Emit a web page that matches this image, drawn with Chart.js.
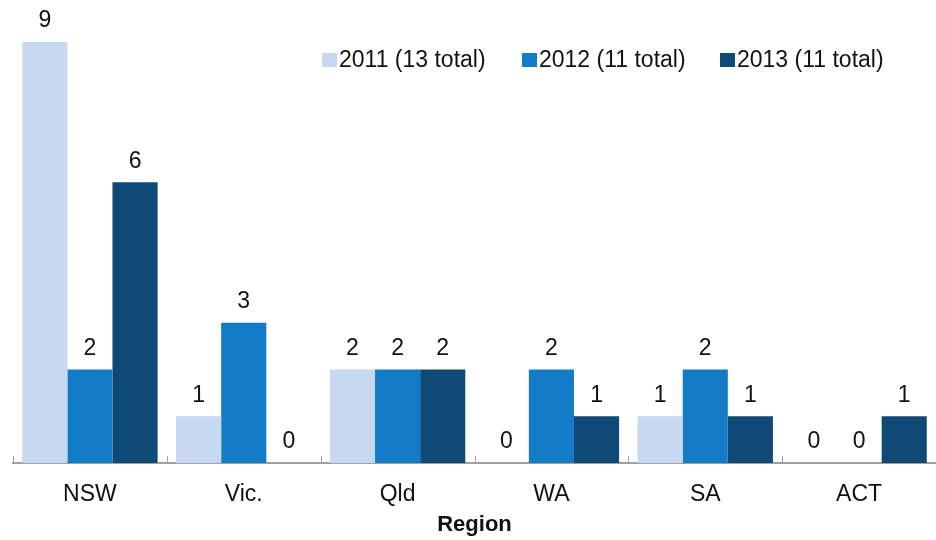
<!DOCTYPE html>
<html>
<head>
<meta charset="utf-8">
<script src="https://cdn.jsdelivr.net/npm/chart.js@4"></script>
<style>
  html, body { margin: 0; padding: 0; background: #fff; }
  #wrap { width: 936px; height: 540px; }
</style>
</head>
<body>
<div id="wrap"><canvas id="chart" width="936" height="540"></canvas></div>
<script>
const regions = ['NSW', 'Vic.', 'Qld', 'WA', 'SA', 'ACT'];
const seriesNames = ['2011 (13 total)', '2012 (11 total)', '2013 (11 total)'];
const values2011 = [9, 1, 2, 0, 1, 0];
const values2012 = [2, 3, 2, 2, 2, 0];
const values2013 = [6, 0, 2, 1, 1, 1];
const colors = ['#c6d9f0', '#137cc6', '#0e4a75'];

const FONT = '"Liberation Sans", Arial, sans-serif';
const TEXT = '#111111';

// value labels above bars + small upward ticks at category boundaries + legend
const extrasPlugin = {
  id: 'extras',
  afterDatasetsDraw(chart) {
    const ctx = chart.ctx;
    ctx.save();
    ctx.font = '23px ' + FONT;
    ctx.fillStyle = TEXT;
    ctx.textAlign = 'center';
    ctx.textBaseline = 'middle';
    chart.data.datasets.forEach((ds, i) => {
      chart.getDatasetMeta(i).data.forEach((bar, j) => {
        ctx.fillText(String(ds.data[j]), bar.x, bar.y - 21);
      });
    });

    // tick marks
    const xs = chart.scales.x;
    const bottom = chart.chartArea.bottom;
    const half = (xs.getPixelForValue(1) - xs.getPixelForValue(0)) / 2;
    ctx.strokeStyle = '#a0a0a0';
    ctx.lineWidth = 1;
    for (let i = 0; i <= regions.length; i++) {
      const x = Math.round(xs.getPixelForValue(0) - half + i * half * 2) + 0.5;
      ctx.beginPath();
      ctx.moveTo(x, bottom);
      ctx.lineTo(x, bottom - 7);
      ctx.stroke();
    }

    // legend
    const legendX = [322, 522, 720];
    ctx.textAlign = 'left';
    ctx.font = '23px ' + FONT;
    seriesNames.forEach((name, i) => {
      ctx.fillStyle = colors[i];
      ctx.fillRect(legendX[i], 53, 15, 14);
      ctx.fillStyle = TEXT;
      ctx.fillText(name, legendX[i] + 17, 61);
    });
    ctx.restore();
  }
};

new Chart(document.getElementById('chart'), {
  type: 'bar',
  data: {
    labels: regions,
    datasets: [
      { label: seriesNames[0], data: values2011, backgroundColor: colors[0] },
      { label: seriesNames[1], data: values2012, backgroundColor: colors[1] },
      { label: seriesNames[2], data: values2013, backgroundColor: colors[2] }
    ]
  },
  options: {
    responsive: false,
    animation: false,
    layout: { padding: { top: 42, left: 13, right: 0, bottom: 0 } },
    datasets: { bar: { categoryPercentage: 0.88, barPercentage: 1.0 } },
    scales: {
      x: {
        grid: { display: false },
        border: { display: true, color: '#a0a0a0', width: 2 },
        ticks: { color: TEXT, font: { family: FONT, size: 23 }, padding: 10 },
        title: {
          display: true,
          text: 'Region',
          color: TEXT,
          font: { family: FONT, size: 22, weight: 'bold' },
          padding: { top: 4, bottom: 2 }
        },
        afterFit(scale) { scale.height = 77; }
      },
      y: {
        display: false,
        min: 0,
        max: 9
      }
    },
    plugins: {
      legend: { display: false },
      tooltip: { enabled: false }
    }
  },
  plugins: [extrasPlugin]
});
</script>
</body>
</html>
